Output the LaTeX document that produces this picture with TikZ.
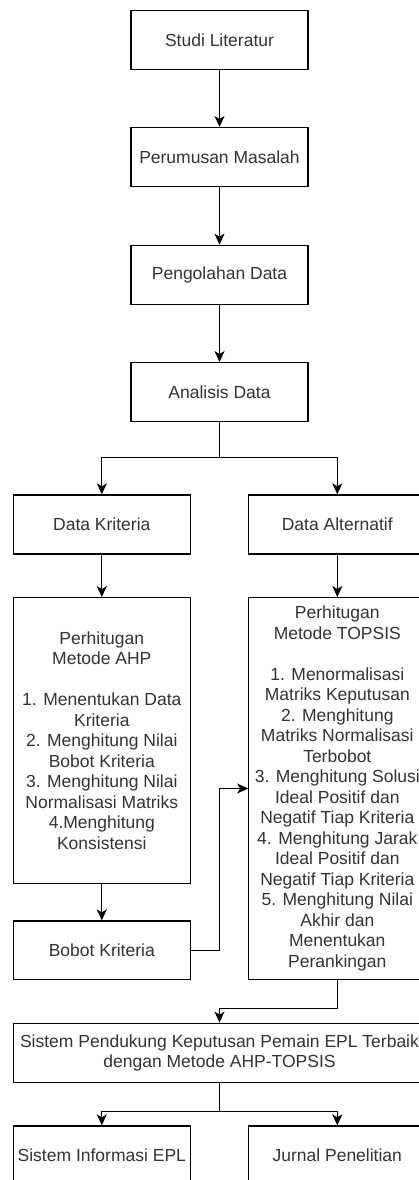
\documentclass[tikz,border=0pt]{standalone}
\usepackage{fontspec}
\setmainfont{Liberation Sans}
\usetikzlibrary{arrows.meta}
\definecolor{txt}{HTML}{333333}
\tikzset{
  box/.style={draw=black, line width=1.3pt, fill=white, text=txt, align=center,
    inner sep=0pt, minimum width=177pt, minimum height=59pt,
    font=\fontsize{17.5}{20.5}\selectfont},
  arr/.style={draw=black, line width=1.3pt, -{Stealth[length=11pt,width=10pt,inset=3pt]}},
  ln/.style={draw=black, line width=1.3pt}
}
\begin{document}
\begin{tikzpicture}[x=1pt,y=-1pt]
\useasboundingbox (0,0) rectangle (419,1180);
\begin{scope}
\clip (0,0) rectangle (419,1180);
\node[box] (studi) at (219.5,40) {Studi Literatur};
\node[box] (rumus) at (219.5,157.2) {Perumusan Masalah};
\node[box] (olah) at (219.5,274.8) {Pengolahan Data};
\node[box] (analisis) at (219.5,392.2) {Analisis Data};
\node[box] (kriteria) at (101.8,524.5) {Data Kriteria};
\node[box] (alternatif) at (337.3,524.5) {Data Alternatif};
\node[box, minimum height=285.6pt] (ahp) at (101.8,740.5)
  {Perhitugan\\Metode AHP\\[20.5pt]1. Menentukan Data\\Kriteria\\2. Menghitung Nilai\\Bobot Kriteria\\3. Menghitung Nilai\\Normalisasi Matriks\\4.Menghitung\\Konsistensi};
\node[box, minimum height=381.6pt] (topsis) at (337.3,788.5)
  {Perhitugan\\Metode TOPSIS\\[20.5pt]1. Menormalisasi\\Matriks Keputusan\\2. Menghitung\\Matriks Normalisasi\\Terbobot\\3. Menghitung Solusi\\Ideal Positif dan\\Negatif Tiap Kriteria\\4. Menghitung Jarak\\Ideal Positif dan\\Negatif Tiap Kriteria\\5. Menghitung Nilai\\Akhir dan\\Menentukan\\Perankingan};
\node[box, minimum height=58.3pt] (bobot) at (101.8,950.2) {Bobot Kriteria};
\node[box, minimum width=412.5pt] (sistem) at (219.5,1052.8)
  {Sistem Pendukung Keputusan Pemain EPL Terbaik\\dengan Metode AHP-TOPSIS};
\node[box] (sie) at (101.8,1155.5) {Sistem Informasi EPL};
\node[box] (jurnal) at (337.3,1155.5) {Jurnal Penelitian};

\draw[arr] (studi.south) -- (rumus.north);
\draw[arr] (rumus.south) -- (olah.north);
\draw[arr] (olah.south) -- (analisis.north);
\coordinate (b1) at (219.5,457.7);
\draw[ln] (analisis.south) -- (b1);
\draw[arr] (b1) -| (kriteria.north);
\draw[arr] (b1) -| (alternatif.north);
\draw[arr] (kriteria.south) -- (ahp.north);
\draw[arr] (alternatif.south) -- (topsis.north);
\draw[arr] (ahp.south) -- (bobot.north);
\coordinate (b2) at (219.5,950.2);
\draw[arr] (bobot.east) -- (b2) |- (topsis.west);
\coordinate (b3) at (337.3,1008.7);
\draw[arr] (topsis.south) -- (b3) -| (sistem.north);
\coordinate (b4) at (219.5,1111.7);
\draw[ln] (sistem.south) -- (b4);
\draw[arr] (b4) -| (sie.north);
\draw[arr] (b4) -| (jurnal.north);
\end{scope}
\end{tikzpicture}
\end{document}
